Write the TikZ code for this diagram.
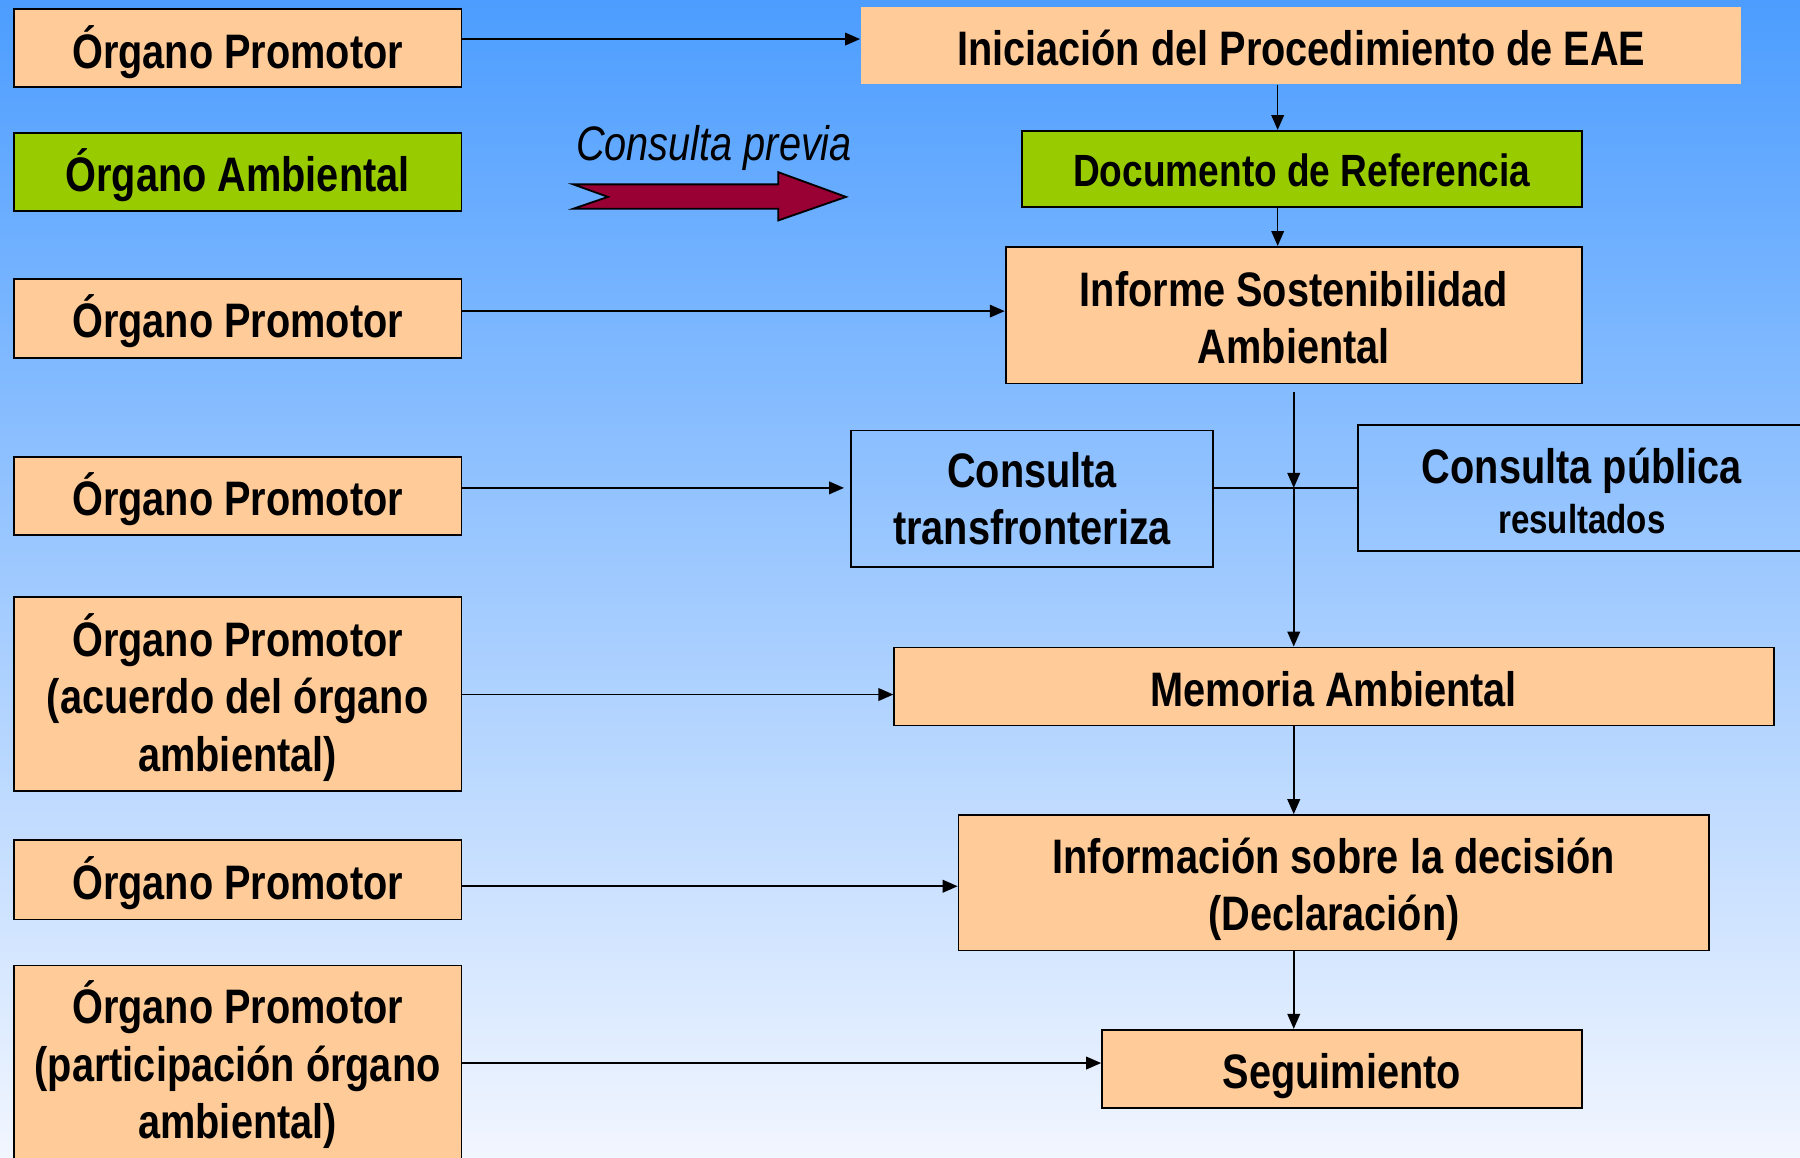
\documentclass[tikz,border=0pt]{standalone}
\usepackage{fontspec}
\setmainfont{Liberation Sans}[FakeStretch=0.82]
\usetikzlibrary{arrows.meta}
\definecolor{peach}{HTML}{FFCC99}
\definecolor{lime}{HTML}{99CC00}
\definecolor{wine}{HTML}{990033}
\definecolor{bgtop}{HTML}{4C9DFF}
\definecolor{bgbot}{HTML}{F2F6FF}
\newcommand{\bxt}[2][1.6pt]{\raisebox{-#1}[\height][\depth]{\begin{tabular}{@{}c@{}}#2\end{tabular}}}
\tikzset{
 box/.style={draw=black, line width=0.45pt, align=center, inner sep=0pt, font=\fontsize{12}{14.2}\selectfont\bfseries, text=black},
 pbox/.style={box, fill=peach},
 gbox/.style={box, fill=lime},
 nbox/.style={box, draw=none, fill=peach},
 cbox/.style={box},
 arr/.style={line width=0.4pt, -{Triangle[length=1.3mm,width=1.1mm]}},
 ln/.style={line width=0.4pt},
}
\begin{document}
\begin{tikzpicture}[x=0.1mm,y=-0.1mm]
\useasboundingbox (0,0) rectangle (1568,1008);
\clip (0,0) rectangle (1568,1008);
\shade[top color=bgtop, bottom color=bgbot] (0,0) rectangle (1568,1008);

% left column
\node[pbox, minimum width=39mm, minimum height=6.8mm] (op1) at (207,42) {\bxt[1.8pt]{Órgano Promotor}};
\node[gbox, minimum width=39mm, minimum height=6.8mm] (oa) at (207,150) {\bxt{Órgano Ambiental}};
\node[pbox, minimum width=39mm, minimum height=6.9mm] (op2) at (207,277.5) {\bxt{Órgano Promotor}};
\node[pbox, minimum width=39mm, minimum height=6.8mm] (op3) at (207,432) {\bxt{Órgano Promotor}};
\node[pbox, minimum width=39mm, minimum height=16.9mm] (op4) at (207,604.5) {\bxt[1.75pt]{Órgano Promotor\\(acuerdo del órgano\\ambiental)}};
\node[pbox, minimum width=39mm, minimum height=6.9mm] (op5) at (207,766.5) {\bxt{Órgano Promotor}};
\node[pbox, minimum width=39mm, minimum height=17.2mm] (op6) at (207,927) {\bxt[1.0pt]{Órgano Promotor\\(participación órgano\\ambiental)}};

% right column
\node[nbox, minimum width=76.7mm, minimum height=6.7mm] (ini) at (1133.5,39.5) {\bxt[2.1pt]{Iniciación del Procedimiento de EAE}};
\node[gbox, minimum width=48.8mm, minimum height=6.6mm, font=\fontsize{11.2}{13.4}\selectfont\bfseries] (doc) at (1134,147) {\bxt[1.8pt]{Documento de Referencia}};
\node[pbox, minimum width=50.2mm, minimum height=11.9mm] (isa) at (1127,274.5) {\bxt[2.1pt]{Informe Sostenibilidad\\Ambiental}};
\node[cbox, minimum width=31.6mm, minimum height=11.9mm] (ct) at (899,434.5) {\bxt[1.5pt]{Consulta\\transfronteriza}};
\node[cbox, minimum width=39mm, minimum height=11mm] (cp) at (1378,425) {\bxt[2.3pt]{Consulta pública\\[-1.7pt]{\fontsize{10}{12}\selectfont resultados}}};
\node[pbox, minimum width=76.6mm, minimum height=6.8mm] (mem) at (1162,598) {\bxt[2.1pt]{Memoria Ambiental}};
\node[pbox, minimum width=65.4mm, minimum height=11.8mm] (inf) at (1162,769) {\bxt[2.0pt]{Información sobre la decisión\\(Declaración)}};
\node[pbox, minimum width=41.8mm, minimum height=6.8mm] (seg) at (1169,931) {\bxt[2.1pt]{Seguimiento}};

% consulta previa
\node[font=\fontsize{12}{14}\selectfont\itshape] (cpv) at (622,129) {Consulta previa};
\filldraw[fill=wine, draw=black, line width=0.45pt] (499.4,160.6) -- (529.6,171.5) -- (499.4,181.8) -- (678,181.8) -- (678,192) -- (737,171.5) -- (678,150) -- (678,160.6) -- cycle;

% helper coordinates
\coordinate (y1) at (0,34);
\coordinate (y2) at (0,271);
\coordinate (y3) at (0,425);
\coordinate (y4) at (0,605);
\coordinate (y5) at (0,772);
\coordinate (y6) at (0,926);
\coordinate (x1) at (1113,0);
\coordinate (x2) at (1127,0);

% horizontal connectors
\draw[arr] (op1.east |- y1) -- (ini.west |- y1);
\draw[arr] (op2.east |- y2) -- (isa.west |- y2);
\draw[arr] (op3.east |- y3) -- ([xshift=-0.5mm]ct.west |- y3);
\draw[arr] (op4.east |- y4) -- (mem.west |- y4);
\draw[arr] (op5.east |- y5) -- (inf.west |- y5);
\draw[arr] (op6.east |- y6) -- (seg.west |- y6);

% vertical connectors
\draw[arr] (ini.south -| x1) -- (doc.north -| x1);
\draw[arr] (doc.south -| x1) -- (isa.north -| x1);
\coordinate (jn) at (isa.south |- cp.west);
\draw[arr] ([yshift=-0.7mm]isa.south) -- (jn);
\draw[arr] (jn) -- (isa.south |- mem.north);
\draw[ln] (ct.east |- jn) -- (cp.west);
\draw[arr] (mem.south -| x2) -- (inf.north -| x2);
\draw[arr] (inf.south -| x2) -- (seg.north -| x2);
\end{tikzpicture}
\end{document}
